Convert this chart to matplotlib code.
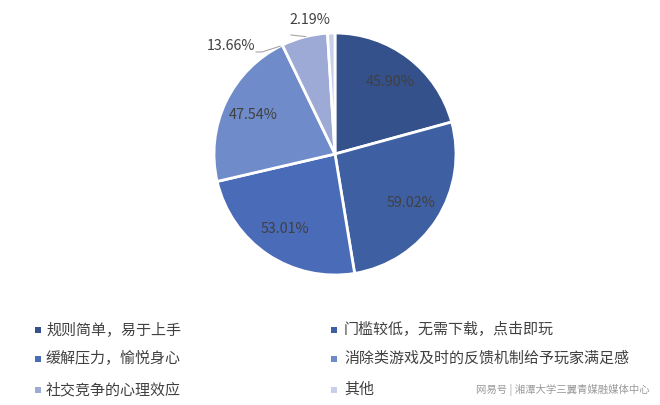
import matplotlib
matplotlib.use("Agg")
import matplotlib.pyplot as plt
import numpy as np

categories = ["规则简单，易于上手", "门槛较低，无需下载，点击即玩", "缓解压力，愉悦身心",
              "消除类游戏及时的反馈机制给予玩家满足感", "社交竞争的心理效应", "其他"]
values = [45.90, 59.02, 53.01, 47.54, 13.66, 2.19]
colors = ["#34518c", "#3e5fa2", "#4a6bb8", "#6f8bc9", "#9eaad6", "#c8cfe9"]

plt.rcParams['font.family'] = ['Noto Sans CJK SC', 'DejaVu Sans']

W, H = 660, 405
fig = plt.figure(figsize=(W/100, H/100), dpi=100)
fig.patch.set_facecolor("white")

cx, cy, r = 335, 154, 121
ax = fig.add_axes([(cx - r)/W, (H - cy - r)/H, 2*r/W, 2*r/H])

wedges, _ = ax.pie(values, colors=colors, startangle=90, counterclock=False, radius=1.0,
                   wedgeprops=dict(edgecolor="white", linewidth=2))
ax.set_xlim(-1, 1)
ax.set_ylim(-1, 1)
ax.axis("off")

txtc = "#404040"
fs = 10.3
for i, (w, v) in enumerate(zip(wedges, values)):
    mid = np.deg2rad((w.theta1 + w.theta2) / 2)
    label = f"{v:.2f}%"
    if i < 4:
        ax.text(0.75*np.cos(mid), 0.75*np.sin(mid), label, ha="center", va="center",
                fontsize=fs, color=txtc)

# outside labels with leader lines
def px(x, y):
    return ((x - cx)/r, (cy - y)/r)

lx, ly = px(231, 46)
ax.text(lx, ly, f"{values[4]:.2f}%", ha="center", va="center", fontsize=fs, color=txtc)
a = np.deg2rad(117)
p1 = px(256, 52); p2 = px(262, 52)
ax.plot([p1[0], p2[0], np.cos(a)], [p1[1], p2[1], np.sin(a)], color="#a6a6a6", lw=0.8, clip_on=False)

lx, ly = px(310, 20)
ax.text(lx, ly, f"{values[5]:.2f}%", ha="center", va="center", fontsize=fs, color=txtc)
a = np.deg2rad(104)
p1 = px(291, 35)
ax.plot([p1[0], np.cos(a)], [p1[1], np.sin(a)], color="#a6a6a6", lw=0.8, clip_on=False)

# legend
rows = [330, 359, 390]
cols = [(38, 46), (334, 344)]
for i, (cat, col) in enumerate(zip(categories, colors)):
    rr, cc = i // 2, i % 2
    mx, tx = cols[cc]
    y = 1 - rows[rr]/H
    fig.patches.append(plt.Rectangle((mx/W - 3/W, y - 3/H), 6/W, 6/H, transform=fig.transFigure,
                                     facecolor=col, edgecolor="none"))
    fig.text(tx/W, y, cat, ha="left", va="center", fontsize=10.8, color=txtc)

fig.text(650/W, 1 - 390/H, "网易号 | 湘潭大学三翼青媒融媒体中心", ha="right", va="center",
         fontsize=7.5, color="#9a9a9a")

fig.savefig("out.png", dpi=100)
